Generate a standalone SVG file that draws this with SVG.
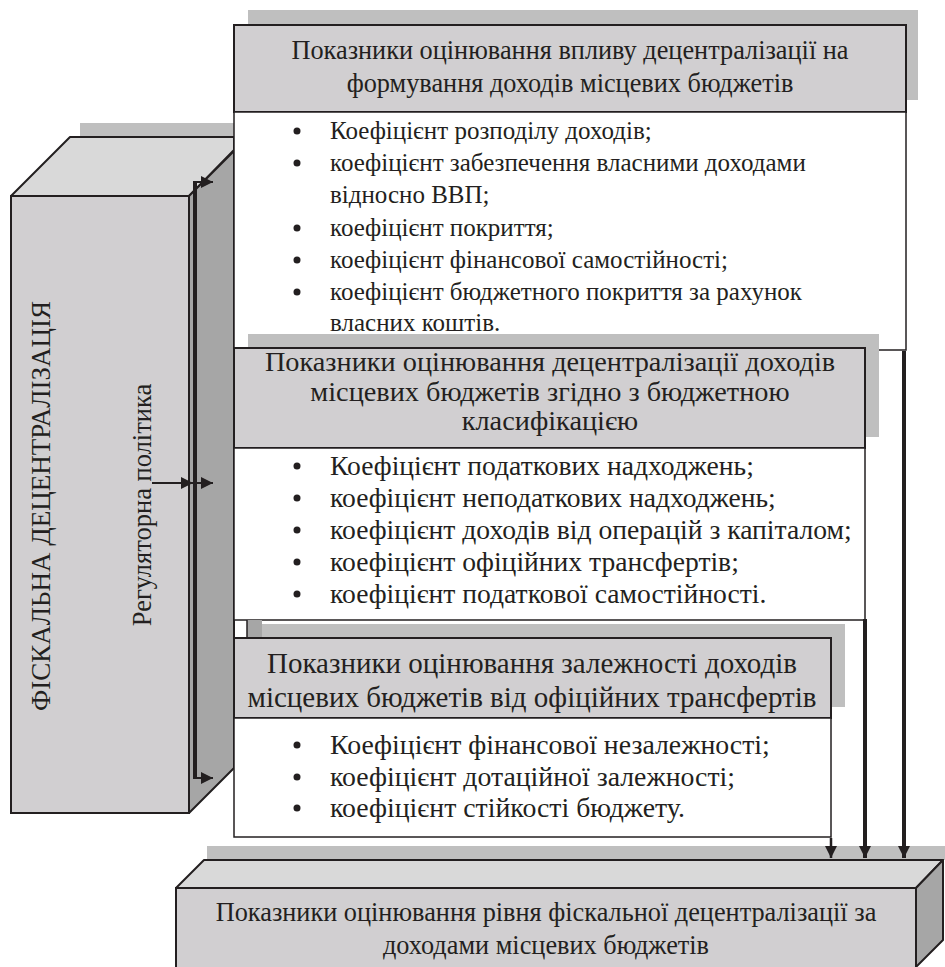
<svg xmlns="http://www.w3.org/2000/svg" width="945" height="967" viewBox="0 0 945 967">
<defs>
<style>
.t{font-family:"Liberation Serif","Times New Roman",serif;font-size:22px;fill:#231f20}
.c{text-anchor:middle}
.s25{font-size:25px}
.s26{font-size:26.3px}
.s28{font-size:28.3px}
.s276{font-size:27.6px}
.s29{font-size:29px}
.s278{font-size:27.8px}
.hd{fill:#d1cfd1;stroke:#231f20;stroke-width:2}
.bd{fill:#ffffff;stroke:#231f20;stroke-width:1.5}
.sh{fill:#bfbfbf}
.top{fill:#d9d9d9;stroke:#231f20;stroke-width:2;stroke-linejoin:round}
.side{fill:#a6a6a6;stroke:#231f20;stroke-width:2;stroke-linejoin:round}
.front{fill:#d1cfd1;stroke:#231f20;stroke-width:2}
.bl{fill:#231f20}
.ln{stroke:#231f20;fill:none}
</style>
<marker id="ah" viewBox="0 0 10 10" refX="10" refY="5" markerWidth="12" markerHeight="12" markerUnits="userSpaceOnUse" orient="auto">
<path d="M0,0 L10,5 L0,10 Z" fill="#231f20"/>
</marker>
</defs>
<rect width="945" height="967" fill="#ffffff"/>

<g id="fiscal">
<rect class="sh" x="80" y="123" width="154" height="14"/>
<polygon class="top" points="11,196 70,137 234,137 234,150 189,196"/>
<polygon class="side" points="189,196 234,151 234,768 189,813"/>
<rect class="front" x="11" y="196" width="178" height="617"/>
<text class="t" transform="translate(50,506) rotate(-90)" text-anchor="middle" style="font-size:27px">ФІСКАЛЬНА ДЕЦЕНТРАЛІЗАЦІЯ</text>
<text class="t" transform="translate(151,505) rotate(-90)" text-anchor="middle" style="font-size:26.5px">Регуляторна політика</text>
</g>

<g id="box1">
<rect class="sh" x="248" y="10" width="670" height="90"/>
<rect class="hd" x="234" y="25" width="672" height="87"/>
<text class="t c s26" x="570" y="59">Показники оцінювання впливу децентралізації на</text>
<text class="t c s26" x="570" y="92">формування доходів місцевих бюджетів</text>
<rect class="bd" x="234" y="112" width="672" height="238"/>
<circle class="bl" cx="297" cy="131" r="3.5"/>
<text class="t s25" x="330" y="139">Коефіцієнт розподілу доходів;</text>
<circle class="bl" cx="297" cy="163" r="3.5"/>
<text class="t s25" x="330" y="171">коефіцієнт забезпечення власними доходами</text>
<text class="t s25" x="330" y="203">відносно ВВП;</text>
<circle class="bl" cx="297" cy="228" r="3.5"/>
<text class="t s25" x="330" y="236">коефіцієнт покриття;</text>
<circle class="bl" cx="297" cy="260" r="3.5"/>
<text class="t s25" x="330" y="268">коефіцієнт фінансової самостійності;</text>
<circle class="bl" cx="297" cy="292" r="3.5"/>
<text class="t s25" x="330" y="300">коефіцієнт бюджетного покриття за рахунок</text>
<text class="t s25" x="330" y="331">власних коштів.</text>
</g>

<g id="box2">
<rect class="sh" x="248" y="334" width="631" height="103"/>
<rect class="hd" x="234" y="348" width="631" height="100"/>
<text class="t c s28" x="550" y="371">Показники оцінювання децентралізації доходів</text>
<text class="t c s28" x="550" y="401">місцевих бюджетів згідно з бюджетною</text>
<text class="t c s28" x="550" y="430">класифікацією</text>
<rect class="bd" x="234" y="448" width="631" height="172"/>
<circle class="bl" cx="297" cy="466" r="3.5"/>
<text class="t s276" x="330" y="475">Коефіцієнт податкових надходжень;</text>
<circle class="bl" cx="297" cy="498" r="3.5"/>
<text class="t s276" x="330" y="507">коефіцієнт неподаткових надходжень;</text>
<circle class="bl" cx="297" cy="530" r="3.5"/>
<text class="t s276" x="330" y="539">коефіцієнт доходів від операцій з капіталом;</text>
<circle class="bl" cx="297" cy="562" r="3.5"/>
<text class="t s276" x="330" y="571">коефіцієнт офіційних трансфертів;</text>
<circle class="bl" cx="297" cy="594" r="3.5"/>
<text class="t s276" x="330" y="603">коефіцієнт податкової самостійності.</text>
</g>

<g id="box3">
<rect fill="#a6a6a6" x="247" y="620" width="15" height="18"/>
<line class="ln" x1="247" y1="620" x2="247" y2="638" stroke-width="1.5"/>
<rect class="sh" x="262" y="624" width="583" height="83"/>
<rect class="hd" x="234" y="638" width="597" height="80"/>
<text class="t c s29" x="532" y="673">Показники оцінювання залежності доходів</text>
<text class="t c s29" x="532" y="707">місцевих бюджетів від офіційних трансфертів</text>
<rect class="bd" x="234" y="718" width="597" height="119"/>
<circle class="bl" cx="297" cy="745" r="3.5"/>
<text class="t s278" x="330" y="754">Коефіцієнт фінансової незалежності;</text>
<circle class="bl" cx="297" cy="777" r="3.5"/>
<text class="t s278" x="330" y="786">коефіцієнт дотаційної залежності;</text>
<circle class="bl" cx="297" cy="808" r="3.5"/>
<text class="t s278" x="330" y="817">коефіцієнт стійкості бюджету.</text>
</g>

<g id="result">
<rect class="sh" x="207" y="846" width="738" height="14"/>
<polygon class="top" points="176,888 204,860 943,860 916,888"/>
<polygon class="side" points="916,888 943,860 943,940 916,967"/>
<rect class="front" x="176" y="888" width="740" height="85"/>
<text class="t c s26" x="546" y="921">Показники оцінювання рівня фіскальної децентралізації за</text>
<text class="t c s26" x="546" y="954">доходами місцевих бюджетів</text>
</g>

<g id="connectors">
<line class="ln" x1="195" y1="182" x2="195" y2="778" stroke-width="4"/>
<line class="ln" x1="193" y1="182" x2="213" y2="182" stroke-width="2" marker-end="url(#ah)"/>
<line class="ln" x1="193" y1="778" x2="213" y2="778" stroke-width="2" marker-end="url(#ah)"/>
<line class="ln" x1="152" y1="483" x2="193" y2="483" stroke-width="2" marker-end="url(#ah)"/>
<line class="ln" x1="193" y1="483" x2="213" y2="483" stroke-width="2" marker-end="url(#ah)"/>
<line class="ln" x1="904" y1="351" x2="904" y2="858" stroke-width="4" marker-end="url(#ah)"/>
<line class="ln" x1="865" y1="619" x2="865" y2="858" stroke-width="4" marker-end="url(#ah)"/>
<line class="ln" x1="831" y1="838" x2="831" y2="858" stroke-width="2.5" marker-end="url(#ah)"/>
</g>
</svg>
